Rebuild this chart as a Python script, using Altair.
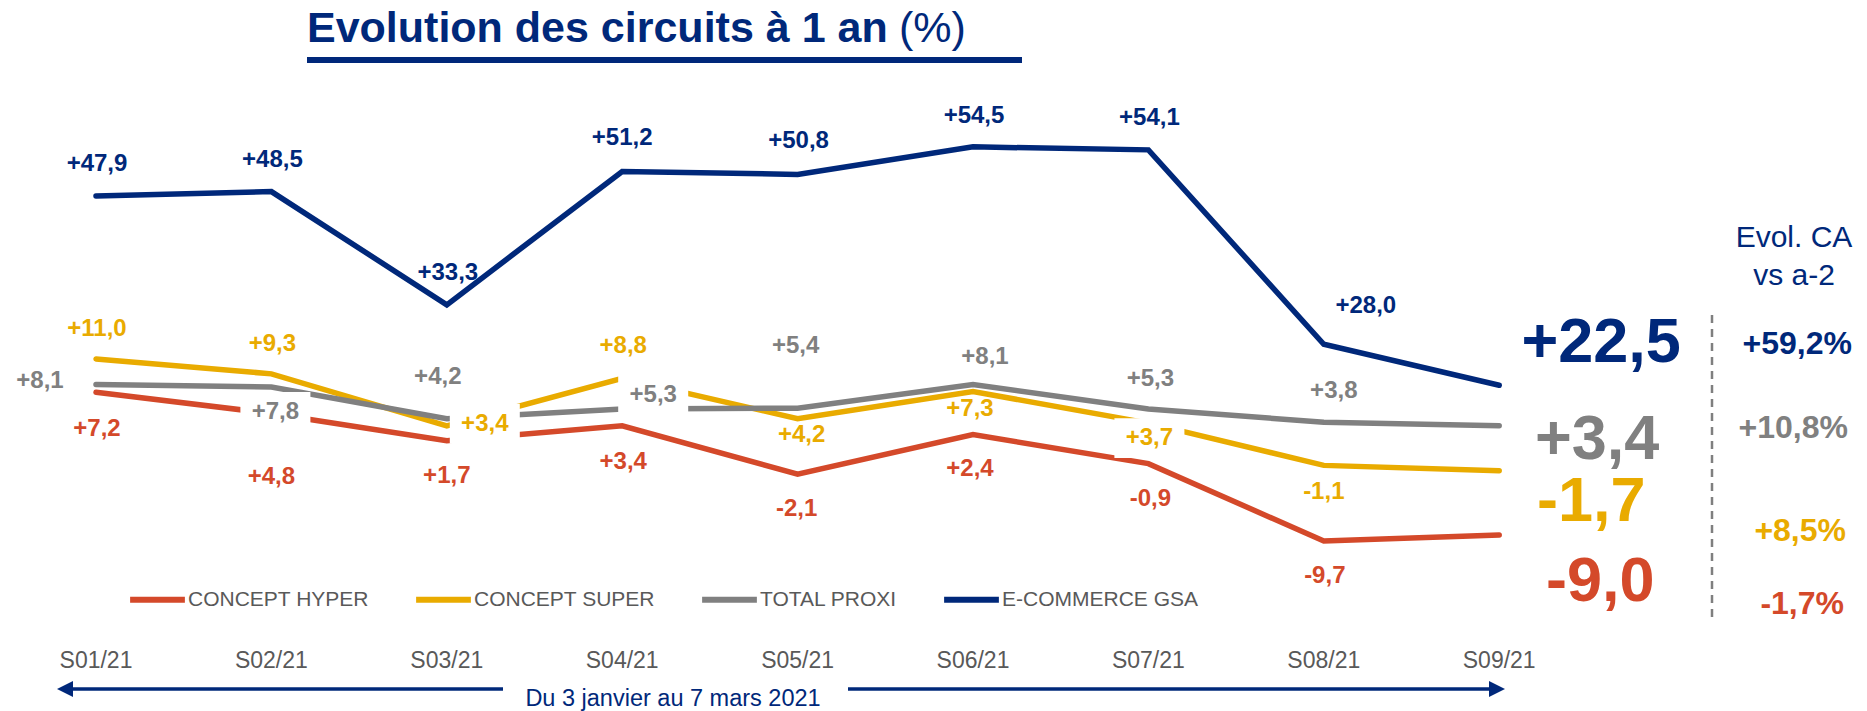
import altair as alt
import pandas as pd

# ---------------- data ----------------
weeks = ["S01/21", "S02/21", "S03/21", "S04/21", "S05/21", "S06/21", "S07/21", "S08/21", "S09/21"]
series_names = ["CONCEPT HYPER", "CONCEPT SUPER", "TOTAL PROXI", "E-COMMERCE GSA"]
hyper = [7.2, 4.8, 1.7, 3.4, -2.1, 2.4, -0.9, -9.7, -9.0]
super_ = [11.0, 9.3, 3.4, 8.8, 4.2, 7.3, 3.7, -1.1, -1.7]
proxi = [8.1, 7.8, 4.2, 5.3, 5.4, 8.1, 5.3, 3.8, 3.4]
ecom = [47.9, 48.5, 33.3, 51.2, 50.8, 54.5, 54.1, 28.0, 22.5]
evol_vs_a2 = [-1.7, 8.5, 10.8, 59.2]  # hyper, super, proxi, e-commerce

# ---------------- style ----------------
colors = ["#D4492A", "#E9AB00", "#808080", "#00287A"]
NAVY = "#00287A"
TXT_GRAY = "#595959"
FONT = "Liberation Sans"

# label pixel offsets (styling only), last week has the big label instead
lab_dx = {
    "CONCEPT HYPER": [1, 0, 0, 1, -1, -3, 2, 1],
    "CONCEPT SUPER": [1, 1, 38, 1, 4, -3, 1, 0],
    "TOTAL PROXI": [-56, 4, -9, 31, -2, 12, 2, 10],
    "E-COMMERCE GSA": [1, 1, 1, 0, 1, 1, 1, 42],
}
lab_dy = {
    "CONCEPT HYPER": [37, 64, 35, 36, 35, 34, 35, 35],
    "CONCEPT SUPER": [-30, -30, -2, -32, 16, 18, 15, 27],
    "TOTAL PROXI": [-3, 25, -42, -14, -62, -27, -30, -31],
    "E-COMMERCE GSA": [-32, -32, -32, -33, -33, -31, -32, -38],
}
boxed = {("TOTAL PROXI", 1), ("CONCEPT SUPER", 2), ("TOTAL PROXI", 3), ("CONCEPT SUPER", 6)}
big_dx = [101, 92, 98, 102]
big_dy = [47, 31, 14, -42]
col_dx = [303, 301, 294, 298]
col_dy = [69, 60, 2, -41]


def fmt(v, pct=False):
    s = f"{v:+.1f}".replace(".", ",")
    return s + ("%" if pct else "")


all_values = [hyper, super_, proxi, ecom]
rows, lab_rows, big_rows = [], [], []
for si, (name, vals) in enumerate(zip(series_names, all_values)):
    for i, (w, v) in enumerate(zip(weeks, vals)):
        rows.append({"series": name, "week": w, "value": v, "order": i})
        if i < len(weeks) - 1:
            lab_rows.append({"series": name, "week": w, "value": v, "label": fmt(v),
                             "dx": lab_dx[name][i], "dy": lab_dy[name][i],
                             "boxed": (name, i) in boxed})
    big_rows.append({"series": name, "week": weeks[-1], "value": vals[-1],
                     "big": fmt(vals[-1]), "vs": fmt(evol_vs_a2[si], pct=True),
                     "bdx": big_dx[si], "bdy": big_dy[si], "cdx": col_dx[si], "cdy": col_dy[si]})

df = pd.DataFrame(rows)
dfl = pd.DataFrame(lab_rows)
dfb = pd.DataFrame(big_rows)

x_enc = alt.X("week:N", scale=alt.Scale(type="point", domain=weeks, range=[88, 1491.2], padding=0), axis=None)
color_enc = alt.Color(
    "series:N",
    scale=alt.Scale(domain=series_names, range=colors),
    legend=alt.Legend(orient="none", legendX=119, legendY=561, direction="horizontal", columns=4,
                      title=None, symbolType="stroke", symbolSize=3000, symbolStrokeWidth=6,
                      labelFont=FONT, labelFontSize=21, labelColor=TXT_GRAY, labelOffset=0,
                      labelLimit=400, columnPadding=35, padding=0),
)


def E(s):
    return alt.ExprRef(expr=s)


def series_layer(names, y_scale):
    y_enc = alt.Y("value:Q", scale=y_scale, axis=None)
    d = df[df.series.isin(names)]
    dl = dfl[dfl.series.isin(names)]
    db = dfb[dfb.series.isin(names)]
    lines = alt.Chart(d).mark_line(strokeWidth=5.5, strokeCap="round").encode(
        x=x_enc, y=y_enc, color=color_enc, order="order:Q")
    boxes = alt.Chart(dl[dl.boxed]).mark_point(
        shape="M-1,-0.57L1,-0.57L1,0.57L-1,0.57Z", filled=True, fill="white", opacity=1,
        size=4900, strokeWidth=0, xOffset=E("datum.dx"), yOffset=E("datum.dy")).encode(
        x=x_enc, y=y_enc)
    labels = alt.Chart(dl).mark_text(font=FONT, fontSize=24, fontWeight="bold",
                                     align="center", baseline="middle",
                                     dx=E("datum.dx"), dy=E("datum.dy")).encode(
        x=x_enc, y=y_enc, text="label:N", color=color_enc)
    big = alt.Chart(db).mark_text(font=FONT, fontSize=63, fontWeight="bold",
                                  align="center", baseline="middle",
                                  dx=E("datum.bdx"), dy=E("datum.bdy")).encode(
        x=x_enc, y=y_enc, text="big:N", color=color_enc)
    col = alt.Chart(db).mark_text(font=FONT, fontSize=32, fontWeight="bold",
                                  align="center", baseline="middle",
                                  dx=E("datum.cdx"), dy=E("datum.cdy")).encode(
        x=x_enc, y=y_enc, text="vs:N", color=color_enc)
    return alt.layer(lines, boxes, labels, big, col)


others = series_layer(series_names[:3],
                      alt.Scale(domain=[-10, 12], range=[535.7, 342.1], nice=False, zero=False))
navy = series_layer(series_names[3:],
                    alt.Scale(domain=[0, 60], range=[544.9, 97.9], nice=False, zero=False))

one = pd.DataFrame({"k": [0]})
title_b = alt.Chart(one).mark_text(text="Evolution des circuits à 1 an", font=FONT, fontSize=43,
                                   fontWeight="bold", color=NAVY, align="left", baseline="alphabetic"
                                   ).encode(x=alt.value(299), y=alt.value(34))
title_r = alt.Chart(one).mark_text(text="(%)", font=FONT, fontSize=43, color=NAVY, align="left",
                                   baseline="alphabetic").encode(x=alt.value(891), y=alt.value(34))
underline = alt.Chart(one).mark_rule(color=NAVY, strokeWidth=6).encode(
    x=alt.value(299), x2=alt.value(1014), y=alt.value(52))
hdr1 = alt.Chart(one).mark_text(text="Evol. CA", font=FONT, fontSize=30, color=NAVY, align="center",
                                baseline="alphabetic").encode(x=alt.value(1786), y=alt.value(239))
hdr2 = alt.Chart(one).mark_text(text="vs a-2", font=FONT, fontSize=30, color=NAVY, align="center",
                                baseline="alphabetic").encode(x=alt.value(1786), y=alt.value(277))
dash = alt.Chart(one).mark_rule(color="#7F7F7F", strokeWidth=2.5, strokeDash=[8, 6]).encode(
    x=alt.value(1704), y=alt.value(307), y2=alt.value(612))
xlabels = alt.Chart(pd.DataFrame({"week": weeks})).mark_text(
    font=FONT, fontSize=23, color=TXT_GRAY, align="center", baseline="alphabetic").encode(
    x=x_enc, y=alt.value(660), text="week:N")
arrow_l = alt.Chart(one).mark_rule(color=NAVY, strokeWidth=3.5).encode(
    x=alt.value(60), x2=alt.value(495), y=alt.value(681))
arrow_r = alt.Chart(one).mark_rule(color=NAVY, strokeWidth=3.5).encode(
    x=alt.value(840), x2=alt.value(1488), y=alt.value(681))
head_l = alt.Chart(one).mark_point(shape="M-1,0L1,-1L1,1Z", filled=True, color=NAVY, opacity=1,
                                   size=256).encode(x=alt.value(57), y=alt.value(681))
head_r = alt.Chart(one).mark_point(shape="M1,0L-1,-1L-1,1Z", filled=True, color=NAVY, opacity=1,
                                   size=256).encode(x=alt.value(1489), y=alt.value(681))
period = alt.Chart(one).mark_text(text="Du 3 janvier au 7 mars 2021", font=FONT, fontSize=23.5,
                                  color=NAVY, align="center", baseline="alphabetic").encode(
    x=alt.value(665), y=alt.value(698))

chart = alt.layer(
    others, navy, title_b, title_r, underline, hdr1, hdr2, dash, xlabels,
    arrow_l, arrow_r, head_l, head_r, period,
).resolve_scale(y="independent").properties(
    width=1851, height=703, padding=0, autosize="none"
).configure_view(stroke=None)

chart.save("out.html", embed_options={"renderer": "svg", "actions": False})
